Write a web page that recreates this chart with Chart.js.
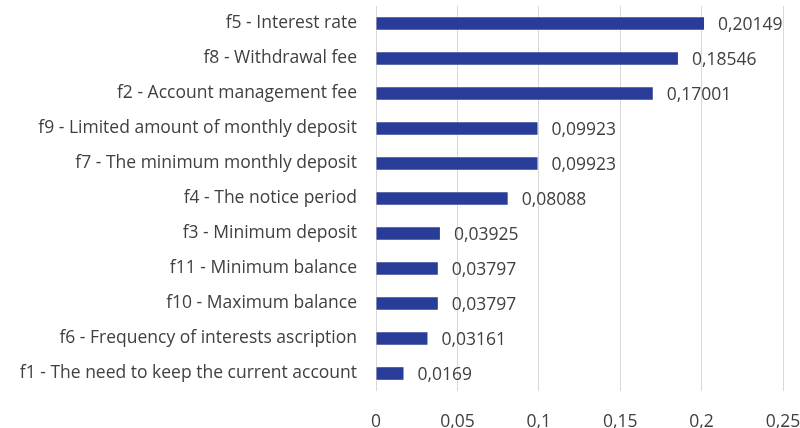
<!DOCTYPE html>
<html>
<head>
<meta charset="utf-8">
<script src="https://cdn.jsdelivr.net/npm/chart.js@4"></script>
<style>
  html,body{margin:0;padding:0;background:#fff;}
  #wrap{width:800px;height:428px;position:relative;}
</style>
</head>
<body>
<div id="wrap"><canvas id="chart"></canvas></div>
<script>
// fattori ordinati dal più importante
const labels = [
  'f5 - Interest rate',
  'f8 - Withdrawal fee',
  'f2 - Account management fee',
  'f9 - Limited amount of monthly deposit',
  'f7 - The minimum monthly deposit',
  'f4 - The notice period',
  'f3 - Minimum deposit',
  'f11 - Minimum balance',
  'f10 - Maximum balance',
  'f6 - Frequency of interests ascription',
  'f1 - The need to keep the current account'
];
const weights = [0.20149, 0.18546, 0.17001, 0.09923, 0.09923, 0.08088, 0.03925, 0.03797, 0.03797, 0.03161, 0.0169];
const valueText = ['0,20149','0,18546','0,17001','0,09923','0,09923','0,08088','0,03925','0,03797','0,03797','0,03161','0,0169'];

const FONT = '"Open Sans", sans-serif';
const TEXT = '#404040';

// etichette dei valori a destra di ogni barra
const barLabels = {
  id:'barLabels',
  afterDatasetsDraw(chart){
    const ctx = chart.ctx;
    const meta = chart.getDatasetMeta(0);
    ctx.save();
    ctx.font = '17.5px ' + FONT;
    ctx.fillStyle = TEXT;
    ctx.textAlign = 'left';
    ctx.textBaseline = 'middle';
    meta.data.forEach((bar,i)=>{
      ctx.fillText(valueText[i], bar.x + 14, bar.y + 2);
    });
    ctx.restore();
  }
};

new Chart(document.getElementById('chart'), {
  type:'bar',
  data:{
    labels,
    datasets:[{data:weights, backgroundColor:'#293c97', barPercentage:0.8, categoryPercentage:0.45}]
  },
  options:{
    indexAxis:'y',
    responsive:true,
    maintainAspectRatio:false,
    animation:false,
    layout:{padding:{left:0, right:17, top:6, bottom:0}},
    plugins:{legend:{display:false}, tooltip:{enabled:false}},
    scales:{
      x:{
        min:0, max:0.25,
        afterFit(scale){ scale.height = 37; scale.paddingLeft = 0; scale.paddingRight = 0; },
        ticks:{stepSize:0.05, color:TEXT, font:{family:FONT, size:17.5}, padding:21, maxRotation:0,
          callback:(v)=> String(Math.round(v*100)/100).replace('.',',')},
        grid:{color:'#d9d9d9', drawTicks:false, lineWidth:1},
        border:{display:false}
      },
      y:{
        afterFit(scale){ scale.width = 376; scale.paddingTop = 0; scale.paddingBottom = 0; },
        ticks:{color:TEXT, font:{family:FONT, size:17.5}, padding:19},
        grid:{display:false, drawTicks:false},
        border:{display:false}
      }
    }
  },
  plugins:[barLabels]
});
</script>
</body>
</html>
